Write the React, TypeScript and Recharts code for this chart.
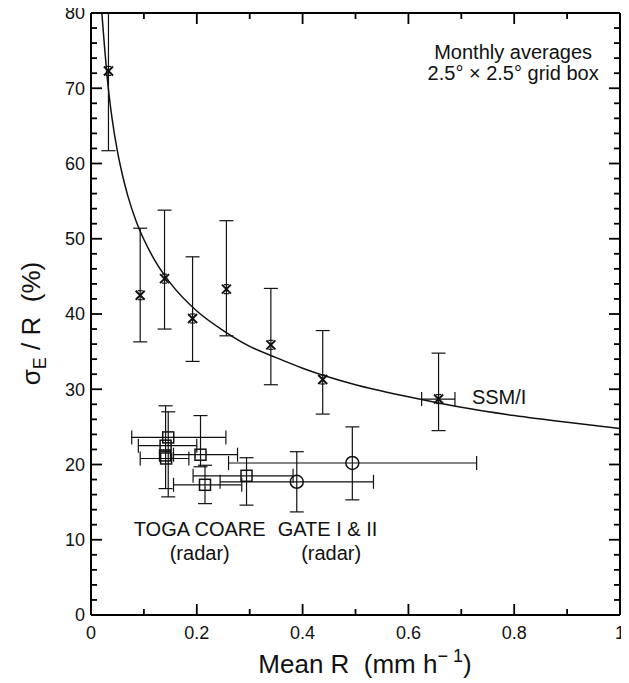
import { ComposedChart, Scatter, Line, XAxis, YAxis, ErrorBar } from "recharts";

const FONT = '"Liberation Sans", Arial, Helvetica, sans-serif';
const INK = "#111";
const TICK = "#000";

// SSM/I monthly averages (mean R, sigma_E/R) with error ranges
const ssmiX = [0.033, 0.093, 0.139, 0.192, 0.256, 0.34, 0.438, 0.657];
const ssmiY = [72.3, 42.5, 44.7, 39.4, 43.3, 35.9, 31.3, 28.7];
const ssmiYLow = [61.7, 36.3, 38.0, 33.7, 37.1, 30.6, 26.7, 24.5];
const ssmiYHigh = [80, 51.4, 53.8, 47.6, 52.4, 43.4, 37.8, 34.8];
const ssmiXLow = [null, null, null, null, null, null, null, 0.625];
const ssmiXHigh = [null, null, null, null, null, null, null, 0.688];

// TOGA COARE radar
const togaX = [0.146, 0.141, 0.14, 0.142, 0.207, 0.2155, 0.294];
const togaY = [23.6, 22.5, 21.2, 20.8, 21.3, 17.3, 18.5];
const togaYLow = [15.7, 16.8, null, null, 19.7, 14.8, 14.6];
const togaYHigh = [27.0, 27.8, null, null, 26.5, 19.9, 20.9];
const togaXLow = [0.077, 0.0895, null, 0.093, 0.156, 0.156, 0.193];
const togaXHigh = [0.255, 0.2, null, 0.185, 0.277, 0.285, 0.382];

// GATE I & II radar
const gateX = [0.389, 0.494];
const gateY = [17.7, 20.2];
const gateYLow = [13.7, 15.3];
const gateYHigh = [21.7, 25.0];
const gateXLow = [0.244, 0.26];
const gateXHigh = [0.534, 0.729];

// fitted SSM/I curve
const curveX = [0.0205, 0.025, 0.03, 0.035, 0.04, 0.05, 0.06, 0.07, 0.085, 0.1, 0.12, 0.15, 0.2, 0.25, 0.3, 0.35, 0.4, 0.5, 0.6, 0.7, 0.8, 0.9, 1.0];
const curveY = [80, 76.0, 71.9, 68.6, 65.9, 61.6, 58.3, 55.6, 52.4, 49.9, 47.2, 44.1, 40.4, 37.8, 35.7, 34.2, 32.8, 30.6, 29.0, 27.6, 26.5, 25.6, 24.8];

const xMajor = [0, 0.2, 0.4, 0.6, 0.8, 1];
const xMinor = [0.1, 0.3, 0.5, 0.7, 0.9];
const yMajor = [0, 10, 20, 30, 40, 50, 60, 70, 80];
const yMinor = [2, 4, 6, 8, 12, 14, 16, 18, 22, 24, 26, 28, 32, 34, 36, 38, 42, 44, 46, 48, 52, 54, 56, 58, 62, 64, 66, 68, 72, 74, 76, 78];

const noteText = ["Monthly averages", "2.5° × 2.5° grid box", "SSM/I", "TOGA COARE", "(radar)", "GATE I & II", "(radar)"];
const noteX = [0.798, 0.798, 0.72, 0.2055, 0.2055, 0.447, 0.454];
const noteY = [74.8, 72.1, 29.0, 11.4, 8.2, 11.4, 8.2];
const noteAnchor = ["middle", "middle", "start", "middle", "middle", "middle", "middle"];

const span = (v: number, lo: number | null, hi: number | null) =>
  lo == null || hi == null ? undefined : [v - lo, hi - v];

const build = (xs: number[], ys: number[], yl: any[], yh: any[], xl: any[], xh: any[]) =>
  xs.map((x, i) => ({ x, y: ys[i], ey: span(ys[i], yl[i], yh[i]), ex: span(x, xl[i], xh[i]) }));

const ssmiData = build(ssmiX, ssmiY, ssmiYLow, ssmiYHigh, ssmiXLow, ssmiXHigh);
const togaData = build(togaX, togaY, togaYLow, togaYHigh, togaXLow, togaXHigh);
const gateData = build(gateX, gateY, gateYLow, gateYHigh, gateXLow, gateXHigh);
const curveData = curveX.map((x, i) => ({ x, y: curveY[i] }));
const noteData = noteText.map((text, i) => ({ x: noteX[i], y: noteY[i], text, anchor: noteAnchor[i] }));

// plot box of the chart below (margins + axis sizes), used for the frame's inward ticks
const W = 629;
const H = 683;
const PLOT = { left: 91, top: 13, right: 620, bottom: 615 };
const sx = (v: number) => PLOT.left + v * (PLOT.right - PLOT.left);
const sy = (v: number) => PLOT.bottom - (v / 80) * (PLOT.bottom - PLOT.top);

const FrameTicks = () => {
  const xs = [...xMajor.map((v) => [v, 11]), ...xMinor.map((v) => [v, 6])];
  const ys = [...yMajor.map((v) => [v, 11]), ...yMinor.map((v) => [v, 6])];
  return (
    <svg width={W} height={H} style={{ position: "absolute", left: 0, top: 0, pointerEvents: "none" }}>
      <g stroke={TICK} strokeWidth={1.8}>
        {xs.map(([v, len], i) => (
          <g key={"x" + i}>
            <line x1={sx(v)} x2={sx(v)} y1={PLOT.bottom} y2={PLOT.bottom - len} />
            <line x1={sx(v)} x2={sx(v)} y1={PLOT.top} y2={PLOT.top + len} />
          </g>
        ))}
        {ys.map(([v, len], i) => (
          <g key={"y" + i}>
            <line x1={PLOT.left} x2={PLOT.left + len} y1={sy(v)} y2={sy(v)} />
            <line x1={PLOT.right} x2={PLOT.right - len} y1={sy(v)} y2={sy(v)} />
          </g>
        ))}
      </g>
    </svg>
  );
};

const noteShape = (p: any) => (
  <text x={p.cx} y={p.cy} dy="0.36em" textAnchor={p.payload.anchor} fontSize={20} fontFamily={FONT} fill={INK}>
    {p.payload.text}
  </text>
);

const Cross = (p: any) => {
  const { cx, cy } = p;
  return (
    <g stroke={INK} strokeWidth={2} fill="none">
      <line x1={cx - 4.5} y1={cy - 4.5} x2={cx + 4.5} y2={cy + 4.5} />
      <line x1={cx - 4.5} y1={cy + 4.5} x2={cx + 4.5} y2={cy - 4.5} />
      <line x1={cx - 2.5} y1={cy - 4.5} x2={cx + 2.5} y2={cy - 4.5} strokeWidth={1.2} />
      <line x1={cx - 2.5} y1={cy + 4.5} x2={cx + 2.5} y2={cy + 4.5} strokeWidth={1.2} />
    </g>
  );
};

const Square = (p: any) => (
  <rect x={p.cx - 5.5} y={p.cy - 5.5} width={11} height={11} fill="none" stroke={INK} strokeWidth={1.5} />
);

const Ring = (p: any) => <circle cx={p.cx} cy={p.cy} r={6.5} fill="none" stroke={INK} strokeWidth={1.5} />;

const frame = { stroke: TICK, strokeWidth: 2 };
const tickFont = { fontSize: 18, fill: INK, fontFamily: FONT };
const fmtX = (v: number) => String(v);

export default function App() {
  return (
    <div style={{ margin: "-8px 0 0 -8px", width: W, height: H, position: "relative", fontFamily: FONT, color: INK }}>
      <ComposedChart width={W} height={H} margin={{ top: 12, right: 8, bottom: 8, left: 31 }}>
        <XAxis
          xAxisId="b"
          type="number"
          dataKey="x"
          domain={[0, 1]}
          ticks={xMajor}
          interval={0}
          allowDataOverflow
          height={60}
          tickSize={0}
          tickMargin={11}
          tickFormatter={fmtX}
          tick={tickFont}
          tickLine={false}
          axisLine={frame}
        />
        <XAxis xAxisId="t" orientation="top" type="number" dataKey="x" domain={[0, 1]} allowDataOverflow height={1} tick={false} tickLine={false} axisLine={frame} />
        <YAxis
          yAxisId="l"
          type="number"
          domain={[0, 80]}
          ticks={yMajor}
          interval={0}
          allowDataOverflow
          width={60}
          tickSize={0}
          tickMargin={6}
          tick={tickFont}
          tickLine={false}
          axisLine={frame}
        />
        <YAxis yAxisId="r" orientation="right" type="number" domain={[0, 80]} allowDataOverflow width={1} tick={false} tickLine={false} axisLine={frame} />
        <Line
          xAxisId="b"
          yAxisId="l"
          data={curveData}
          dataKey="y"
          type="monotone"
          stroke={INK}
          strokeWidth={1.5}
          dot={false}
          activeDot={false}
          isAnimationActive={false}
        />
        <Scatter xAxisId="b" yAxisId="l" data={ssmiData} dataKey="y" shape={<Cross />} isAnimationActive={false}>
          <ErrorBar dataKey="ey" direction="y" width={7} stroke={INK} strokeWidth={1.2} isAnimationActive={false} />
          <ErrorBar dataKey="ex" direction="x" width={7} stroke={INK} strokeWidth={1.2} isAnimationActive={false} />
        </Scatter>
        <Scatter xAxisId="b" yAxisId="l" data={togaData} dataKey="y" shape={<Square />} isAnimationActive={false}>
          <ErrorBar dataKey="ey" direction="y" width={7} stroke={INK} strokeWidth={1.2} isAnimationActive={false} />
          <ErrorBar dataKey="ex" direction="x" width={7} stroke={INK} strokeWidth={1.2} isAnimationActive={false} />
        </Scatter>
        <Scatter xAxisId="b" yAxisId="l" data={gateData} dataKey="y" shape={<Ring />} isAnimationActive={false}>
          <ErrorBar dataKey="ey" direction="y" width={7} stroke={INK} strokeWidth={1.2} isAnimationActive={false} />
          <ErrorBar dataKey="ex" direction="x" width={7} stroke={INK} strokeWidth={1.2} isAnimationActive={false} />
        </Scatter>
        <Scatter xAxisId="b" yAxisId="l" data={noteData} dataKey="y" shape={noteShape} isAnimationActive={false} />
      </ComposedChart>
      <FrameTicks />
      <div style={{ position: "absolute", left: 165, top: 649, width: 400, lineHeight: "30px", fontSize: 26, textAlign: "center", whiteSpace: "pre" }}>
        {"Mean R  (mm h"}
        <span style={{ fontSize: 18, position: "relative", top: -11 }}>{"− 1"}</span>
        {")"}
      </div>
      <div
        style={{
          position: "absolute",
          left: -68,
          top: 307,
          width: 200,
          lineHeight: "30px",
          fontSize: 26,
          textAlign: "center",
          whiteSpace: "pre",
          transform: "rotate(-90deg)",
        }}
      >
        {"σ"}
        <span style={{ fontSize: 18, position: "relative", top: 6 }}>E</span>
        {" / R  (%)"}
      </div>
    </div>
  );
}
